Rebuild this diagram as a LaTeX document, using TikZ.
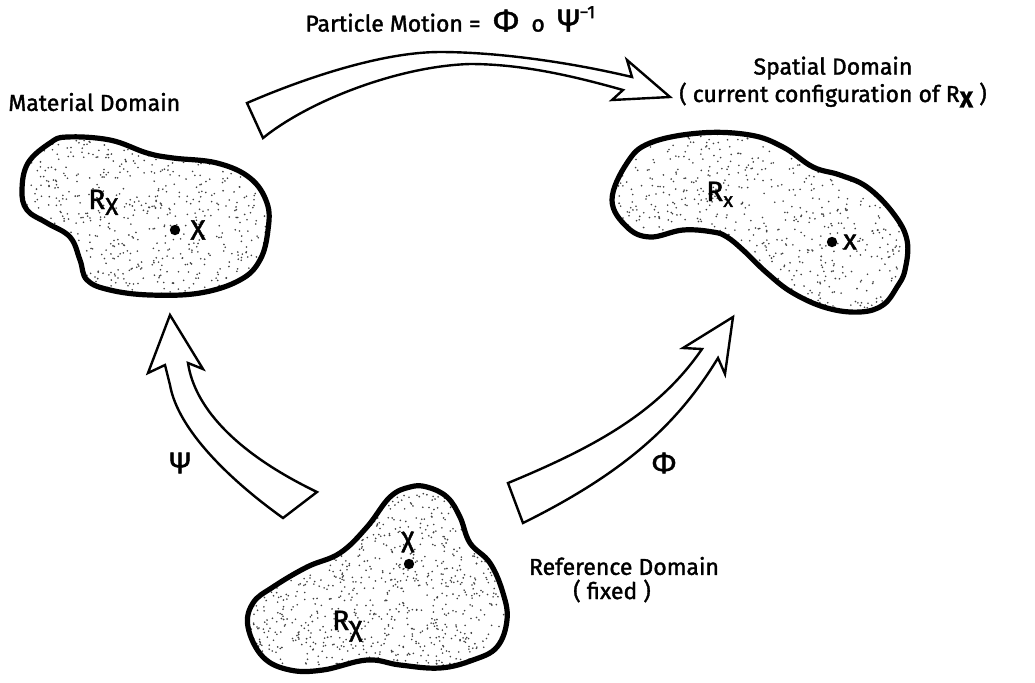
\documentclass[tikz,border=0pt]{standalone}
\usepackage{fontspec}
\setmainfont{Fira Sans}[FakeBold=1.5]
\newfontfamily\symfont{Fira Sans}[FakeBold=1.5]
\begin{document}
\begin{tikzpicture}[x=0.5pt,y=-0.5pt,
  blob/.style={line width=2.6pt,line join=round},
  fatarrow/.style={draw,line width=1.2pt,fill=white,line join=miter},
  lbl/.style={inner sep=0pt,font=\fontsize{11.5}{13}\selectfont},
  sym/.style={inner sep=0pt,font=\symfont\fontsize{14}{16}\selectfont}]
\useasboundingbox (0,0) rectangle (1035,682);
\pgfmathsetseed{7}
% ---- blob paths
\def\matblob{plot[smooth cycle,tension=0.65] coordinates{(22,190) (28,163) (50,143) (67,137) (110,140) (147,153) (173,158) (217,163) (250,178) (267,203) (268,230) (260,260) (240,280) (200,293) (150,295) (110,290) (87,280) (80,260) (70,237) (47,223) (27,210)}}
\def\spablob{plot[smooth cycle,tension=0.65] coordinates{(612,200) (627,163) (650,143) (700,133) (750,135) (783,147) (813,167) (840,175) (867,187) (893,213) (907,240) (905,270) (897,287) (883,305) (860,312) (827,308) (793,293) (767,273) (743,250) (727,237) (713,232) (683,230) (650,237) (627,227)}}
\def\refblob{plot[smooth cycle,tension=0.65] coordinates{(427,487) (447,497) (460,517) (470,543) (490,563) (503,593) (507,620) (497,647) (473,660) (440,668) (400,665) (367,660) (323,670) (290,670) (263,657) (248,627) (253,603) (273,587) (307,567) (340,553) (367,527) (390,497) (410,487)}}
% ---- stipple
\begin{scope}
\clip \matblob;
\foreach \i in {1,...,700}{\fill[black!75] (22+246*rnd,137+158*rnd) circle (0.45pt);}
\end{scope}
\begin{scope}
\clip \spablob;
\foreach \i in {1,...,850}{\fill[black!75] (612+295*rnd,133+180*rnd) circle (0.45pt);}
\end{scope}
\begin{scope}
\clip \refblob;
\foreach \i in {1,...,1100}{\fill[black!75] (248+260*rnd,487+184*rnd) circle (0.45pt);}
\end{scope}
\draw[blob] \matblob;
\draw[blob] \spablob;
\draw[blob] \refblob;
% ---- fat arrows
\draw[fatarrow] (247,103) .. controls (300,80) and (380,52) .. (440,52)
  .. controls (490,52) and (560,60) .. (632,77) -- (627,60) -- (670,97) -- (612,100) -- (623,90)
  .. controls (570,75) and (520,64) .. (470,64)
  .. controls (400,66) and (310,100) .. (263,138) -- cycle;
\draw[fatarrow] (283,518) .. controls (230,480) and (178,430) .. (170,385) -- (165,365) -- (148,373) -- (170,315) -- (203,369) -- (188,363)
  .. controls (195,410) and (240,455) .. (317,492) -- cycle;
\draw[fatarrow] (508,483) .. controls (600,445) and (660,410) .. (702,349) -- (683,348) -- (733,317) -- (725,374) -- (718,358)
  .. controls (680,420) and (630,470) .. (523,523) -- cycle;
% ---- labels
\node[lbl,anchor=west] (pm) at (305,19) {Particle Motion = \;{\fontsize{16}{16}\selectfont Φ}\; o \;{\fontsize{16}{16}\selectfont Ψ}\raisebox{1.1ex}{\fontsize{9}{10}\selectfont −1}};
\node[lbl,anchor=west] (md) at (8,102) {Material Domain};
\node[lbl] (sd) at (833,68) {Spatial Domain};
\node[lbl] (cc) at (833,95) {( current configuration of R\raisebox{-0.45ex}{\textbf{X}} )};
\node[lbl] (rd) at (624,566) {Reference Domain};
\node[lbl] (fx) at (612,591) {( fixed )};
\node[sym,font=\symfont\fontsize{15}{16}\selectfont] (psi) at (180,463) {Ψ};
\node[sym,font=\symfont\fontsize{15}{16}\selectfont] (phi) at (664,463) {Φ};
% blob labels
\node[sym,anchor=base west] (rX) at (88,209) {R\raisebox{-0.4ex}{\fontsize{12}{12}\selectfont X}};
\fill (175,230) circle (2.6pt) coordinate (dX);
\node[sym] (X) at (198,230) {X};
\node[sym,anchor=base west] (rx) at (706,201) {R\raisebox{-0.4ex}{\fontsize{10}{12}\selectfont x}};
\fill (832,242) circle (2.6pt) coordinate (dx);
\node[sym] (x) at (850,242) {x};
\node[sym] (chi) at (408,542) {χ};
\fill (409,564) circle (2.6pt) coordinate (dchi);
\node[sym,anchor=base west] (rchi) at (332,630) {R\raisebox{-0.4ex}{χ}};
\end{tikzpicture}
\end{document}
